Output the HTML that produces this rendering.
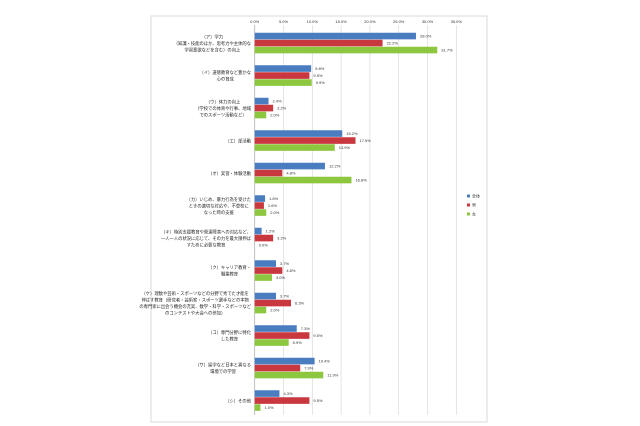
<!DOCTYPE html>
<html><head><meta charset="utf-8"><style>
html,body{margin:0;padding:0;background:#fff;}
svg{display:block;font-family:"Liberation Sans","Noto Sans CJK JP",sans-serif;}
</style></head><body>
<svg id="chart" width="640" height="426" viewBox="0 0 640 426">
<rect x="151" y="16" width="336" height="406" fill="#fff" stroke="#d9d9d9" stroke-width="1"/>
<g id="grid"></g><g id="bars"></g><g id="labels"></g><g id="legend"></g>
</svg>
<script>
const categories=[
["（ア）学力","（知識・技能のほか、思考力や主体的な","学習意欲などを含む）の向上"],
["（イ）道徳教育など豊かな","心の育成"],
["（ウ）体力の向上","（学校での体育や行事、地域","でのスポーツ活動など）"],
["（エ）部活動"],
["（オ）実習・体験活動"],
["（カ）いじめ、暴力行為を受けた","ときの適切な対応や、不登校に","なった時の支援"],
["（キ）特別支援教育や発達障害への対応など、","一人一人の状況に応じて、その力を最大限伸ば","すために必要な教育"],
["（ク）キャリア教育・","職業教育"],
["（ケ）理数や芸術・スポーツなどの分野で秀でた才能を","伸ばす教育（研究者・芸術家・スポーツ選手などの本物","の専門家に出会う機会の充実、数学・科学・スポーツなど","のコンテストや大会への参加）"],
["（コ）専門分野に特化","した教育"],
["（サ）留学など日本と異なる","環境での学習"],
["（シ）その他"]
];
const seriesNames=["全体","男","女"];
const allValues=[28.0,9.8,2.4,15.2,12.2,1.8,1.2,3.7,3.7,7.3,10.4,4.3];
const maleValues=[22.2,9.5,3.2,17.5,4.8,1.6,3.2,4.8,6.3,9.5,7.9,9.5];
const femaleValues=[31.7,9.9,2.0,13.9,16.8,2.0,0.0,3.0,2.0,5.9,11.9,1.0];
const tickValues=[0,5,10,15,20,25,30,35];
const tickLabels=["0.0%","5.0%","10.0%","15.0%","20.0%","25.0%","30.0%","35.0%"];

const colors=["#4a7dc0","#c9373f","#8dc63f"];
const NS="http://www.w3.org/2000/svg";
const x0=254.7,pxPer=(456.3-254.7)/35;
const xs=v=>x0+v*pxPer;
const bandTop=27,bandH=(417-27)/12;
const yc=i=>bandTop+bandH*(i+0.5);
function mk(tag,attrs,parent){const e=document.createElementNS(NS,tag);for(const k in attrs)e.setAttribute(k,attrs[k]);parent.appendChild(e);return e;}
const grid=document.getElementById('grid'),bars=document.getElementById('bars'),labels=document.getElementById('labels'),legend=document.getElementById('legend');
tickValues.forEach((t,i)=>{
 const l=mk('line',{x1:xs(t),x2:xs(t),y1:25,y2:415,stroke:t===0?'#a6a6a6':'#d9d9d9','stroke-width':0.7},grid);
 
 
 const tx=mk('text',{x:xs(t),y:23,'font-size':4,'text-anchor':'middle',fill:'#333'},grid);
 tx.textContent=tickLabels[i];
 
 
});
const series=[allValues,maleValues,femaleValues];
const bh=7;
categories.forEach((lines,i)=>{
 const c=yc(i);
 series.forEach((vals,s)=>{
  const y=c-bh*1.5+s*bh;
  const r=mk('rect',{x:x0,y:y,width:Math.max(0,xs(vals[i])-x0),height:bh-0.4,fill:colors[s]},bars);
  
  
  const t=mk('text',{x:xs(vals[i])+4,y:y+bh/2+1.4,'font-size':4,fill:'#333'},bars);
  t.textContent=vals[i].toFixed(1)+'%';
  
  
 });
 const g=mk('g',{},labels);
 
 
 const lh=6.5, top=c-(lines.length-1)*lh/2;
 const ts=lines.map((ln,j)=>{const t=mk('text',{x:0,y:top+j*lh+1.5,'font-size':4.3,'text-anchor':'middle',fill:'#222'},g);t.textContent=ln;return t;});
 let w=0;ts.forEach(t=>{w=Math.max(w,t.getComputedTextLength());});
 const cx=251-w/2;ts.forEach(t=>t.setAttribute('x',cx));
});
seriesNames.forEach((n,s)=>{
 const y=196+s*9;
 const r=mk('rect',{x:467,y:y-1.5,width:3,height:3,fill:colors[s]},legend);
 
 
 const t=mk('text',{x:472,y:y+1.5,'font-size':4,fill:'#333'},legend);
 t.textContent=n;
 
 
});
</script>
</body></html>
